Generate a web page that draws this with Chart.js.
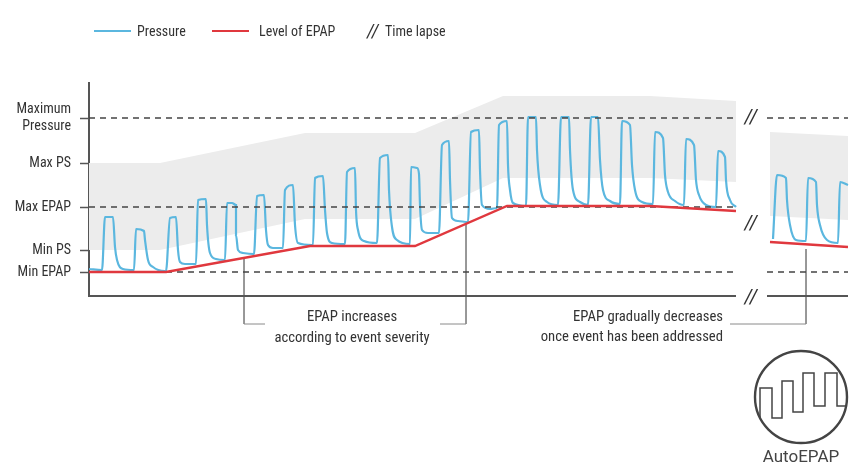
<!DOCTYPE html>
<html>
<head>
<meta charset="utf-8">
<style>
  html, body { margin: 0; padding: 0; background: #fff; }
  canvas { display: block; }
</style>
<script src="https://cdn.jsdelivr.net/npm/chart.js@4/dist/chart.umd.min.js"></script>
</head>
<body>
<canvas id="epap_Chart" width="860" height="470"></canvas>
<script>
document.addEventListener('DOMContentLoaded', (event) => {

    const NARROW = '"Roboto Condensed", "Liberation Sans", sans-serif';
    const DARK = '#555555';

    // [time, level], null = time lapse
    const pressure = [
        [0,27],[13,26],
        [13,26],[16,79],[24,79],[26,49],[28,36],[34,27],[45,26],
        [45,26],[47,67],[55,65],[56,56],[59,36],[64,29],[76,25],
        [77,25],[81,78],[87,79],[89,46],[91,34],[96,32],[107,32],
        [107,32],[109,96],[117,97],[118,71],[121,43],[127,37],[136,36],
        [136,36],[138,93],[143,93],[147,91],[147,61],[149,46],[154,43],[165,42],
        [165,42],[168,100],[175,101],[177,66],[179,51],[184,48],[194,48],
        [194,48],[196,106],[204,111],[206,71],[209,53],[223,51],
        [224,51],[226,118],[234,120],[236,86],[238,63],[243,53],[256,52],
        [256,52],[258,124],[266,128],[267,86],[269,66],[275,55],[288,53],
        [288,53],[291,138],[299,141],[300,106],[303,69],[308,56],[321,52],
        [321,52],[322,129],[328,128],[330,122],[331,91],[333,66],[339,63],[350,63],
        [350,63],[353,151],[360,155],[361,116],[363,78],[369,75],[379,74],
        [379,74],[382,164],[390,166],[391,126],[393,91],[401,87],[408,88],
        [408,88],[410,171],[418,175],[419,131],[421,106],[424,93],[437,90],
        [437,90],[439,179],[447,179],[448,146],[451,111],[458,94],[469,91],
        [469,91],[472,179],[480,179],[481,146],[484,106],[491,94],[499,91],
        [499,91],[502,179],[509,179],[511,136],[514,106],[521,95],[531,92],
        [531,92],[533,175],[541,171],[543,131],[546,106],[553,94],[564,92],
        [564,92],[566,164],[574,158],[576,121],[579,104],[586,95],[595,91],
        [595,91],[597,157],[605,151],[607,116],[610,101],[617,91],[627,89],
        [627,89],[629,145],[636,139],[637,116],[641,96],[647,89],
        [664,null],
        [684,57],[688,121],[697,118],[698,96],[701,71],[707,56],[717,55],
        [717,55],[719,118],[727,114],[728,91],[731,71],[738,56],[749,53],
        [749,53],[751,114],[759,111]
    ];
    const epap = [[0,24],[77,24],[221,50],[326,50],[418,90],[561,90],[647,85],[664,null],[681,54],[759,49]];
    const bandTop = [[0,133],[71,133],[216,163],[326,163],[414,200],[561,200],[647,195],[664,null],[681,164],[759,160]];
    const bandBottom = [[0,46],[71,46],[216,77],[326,77],[414,118],[561,118],[647,114],[664,null],[681,80],[759,76]];

    const levels = { 'Min EPAP': 24, 'Min PS': 46, 'Max EPAP': 89, 'Max PS': 133, 'Maximum Pressure': 178 };

    const toXY = (rows) => rows.map(r => ({ x: r[0], y: r[1] }));
    const dashed = (level, withRight) => ({
        data: toXY(withRight ? [[0,level],[647,level],[664,null],[678,level],[759,level]] : [[0,level],[647,level]]),
        borderColor: '#444444', borderWidth: 1.3, borderDash: [6, 5], pointRadius: 0, order: 2, clip: false
    });
    const leader = (rows) => ({
        data: toXY(rows), borderColor: '#8a8a8a', borderWidth: 1, pointRadius: 0, order: 5, clip: false
    });

    // 글자, 범례, 로고
    const labelsPlugin = {
        id: 'labelsPlugin',
        afterDatasetsDraw(chart) {
            const c = chart.ctx;
            const x = chart.scales.x;
            const y = chart.scales.y;
            c.save();
            c.fillStyle = '#333333';
            c.textBaseline = 'middle';

            // time lapse marks
            c.font = 'italic 21px ' + NARROW;
            c.textAlign = 'center';
            [178, 72, -2].forEach(v => c.fillText('//', x.getPixelForValue(662), y.getPixelForValue(v)));

            // notes under the axis
            c.font = '14.7px ' + NARROW;
            c.fillText('EPAP increases', 352, 317);
            c.fillText('according to event severity', 352, 338);
            c.textAlign = 'right';
            c.fillText('EPAP gradually decreases', 723, 317);
            c.fillText('once event has been addressed', 723, 337);

            // legend
            c.textAlign = 'left';
            c.lineWidth = 2;
            c.strokeStyle = '#5bb7df';
            c.beginPath(); c.moveTo(94, 31); c.lineTo(131, 31); c.stroke();
            c.strokeStyle = '#e0383e';
            c.beginPath(); c.moveTo(212, 31); c.lineTo(249, 31); c.stroke();
            c.font = '14px ' + NARROW;
            c.fillText('Pressure', 137, 32);
            c.fillText('Level of EPAP', 259, 32);
            c.fillText('Time lapse', 385, 32);
            c.font = 'italic 19px ' + NARROW;
            c.fillText('//', 367, 32);

            // AutoEPAP badge
            c.strokeStyle = '#444444';
            c.lineWidth = 2.4;
            c.beginPath(); c.arc(801, 397, 46, 0, Math.PI * 2); c.stroke();
            c.lineWidth = 1.5;
            const wave = [[760,417],[760,388],[772,388],[772,418],[782,418],[782,381],[793,381],[793,412],[803,412],[803,373],[814,373],[814,406],[825,406],[825,373],[837,373],[837,406],[847,406]];
            c.beginPath();
            wave.forEach((p, i) => i ? c.lineTo(p[0], p[1]) : c.moveTo(p[0], p[1]));
            c.stroke();
            c.font = '17px Roboto, sans-serif';
            c.textAlign = 'center';
            c.fillStyle = '#444444';
            c.fillText('AutoEPAP', 801, 458);
            c.restore();
        }
    };

    new Chart(document.getElementById('epap_Chart').getContext('2d'), {
        type: 'line',
        data: {
            datasets: [
                { data: toXY(bandTop), borderWidth: 0, pointRadius: 0, backgroundColor: '#ececec', fill: '+1', order: 6 },
                { data: toXY(bandBottom), borderWidth: 0, pointRadius: 0, fill: false, order: 6 },
                dashed(levels['Maximum Pressure'], true),
                dashed(levels['Max EPAP'], false),
                dashed(levels['Min EPAP'], true),
                { data: toXY(pressure), borderColor: '#5bb7df', borderWidth: 2.2, pointRadius: 0, cubicInterpolationMode: 'monotone', order: 3, clip: false },
                { data: toXY(epap), borderColor: '#e0383e', borderWidth: 2.4, pointRadius: 0, order: 1, clip: false },
                { data: toXY([[0,0],[647,0],[664,null],[678,0],[759,0]]), borderColor: DARK, borderWidth: 2, pointRadius: 0, order: 0, clip: false },
                leader([[155,38],[155,-28],[176,-28]]),
                leader([[377,73],[377,-28],[351,-28]]),
                leader([[717,47],[717,-28],[641,-28]])
            ]
        },
        options: {
            responsive: false,
            animation: false,
            layout: { padding: { top: 83, bottom: 174, right: 12, left: 0 } },
            plugins: {
                legend: { display: false },
                tooltip: { enabled: false }
            },
            scales: {
                x: { type: 'linear', min: 0, max: 759, display: false },
                y: {
                    min: 0,
                    max: 213,
                    afterFit: (scale) => { scale.width = 89; },
                    afterBuildTicks: (scale) => {
                        scale.ticks = Object.values(levels).map(v => ({ value: v }));
                    },
                    border: { color: DARK, width: 2 },
                    grid: { drawOnChartArea: false, color: DARK, tickLength: 9, tickWidth: 1.5 },
                    ticks: {
                        padding: 9,
                        autoSkip: false,
                        maxRotation: 0,
                        color: '#333333',
                        font: { family: NARROW, size: 14, lineHeight: 1.28 },
                        callback: function(value) {
                            const name = Object.keys(levels).find(k => levels[k] === value);
                            return name === 'Maximum Pressure' ? ['Maximum', 'Pressure'] : name;
                        }
                    }
                }
            }
        },
        plugins: [labelsPlugin]
    });
});
</script>
</body>
</html>
